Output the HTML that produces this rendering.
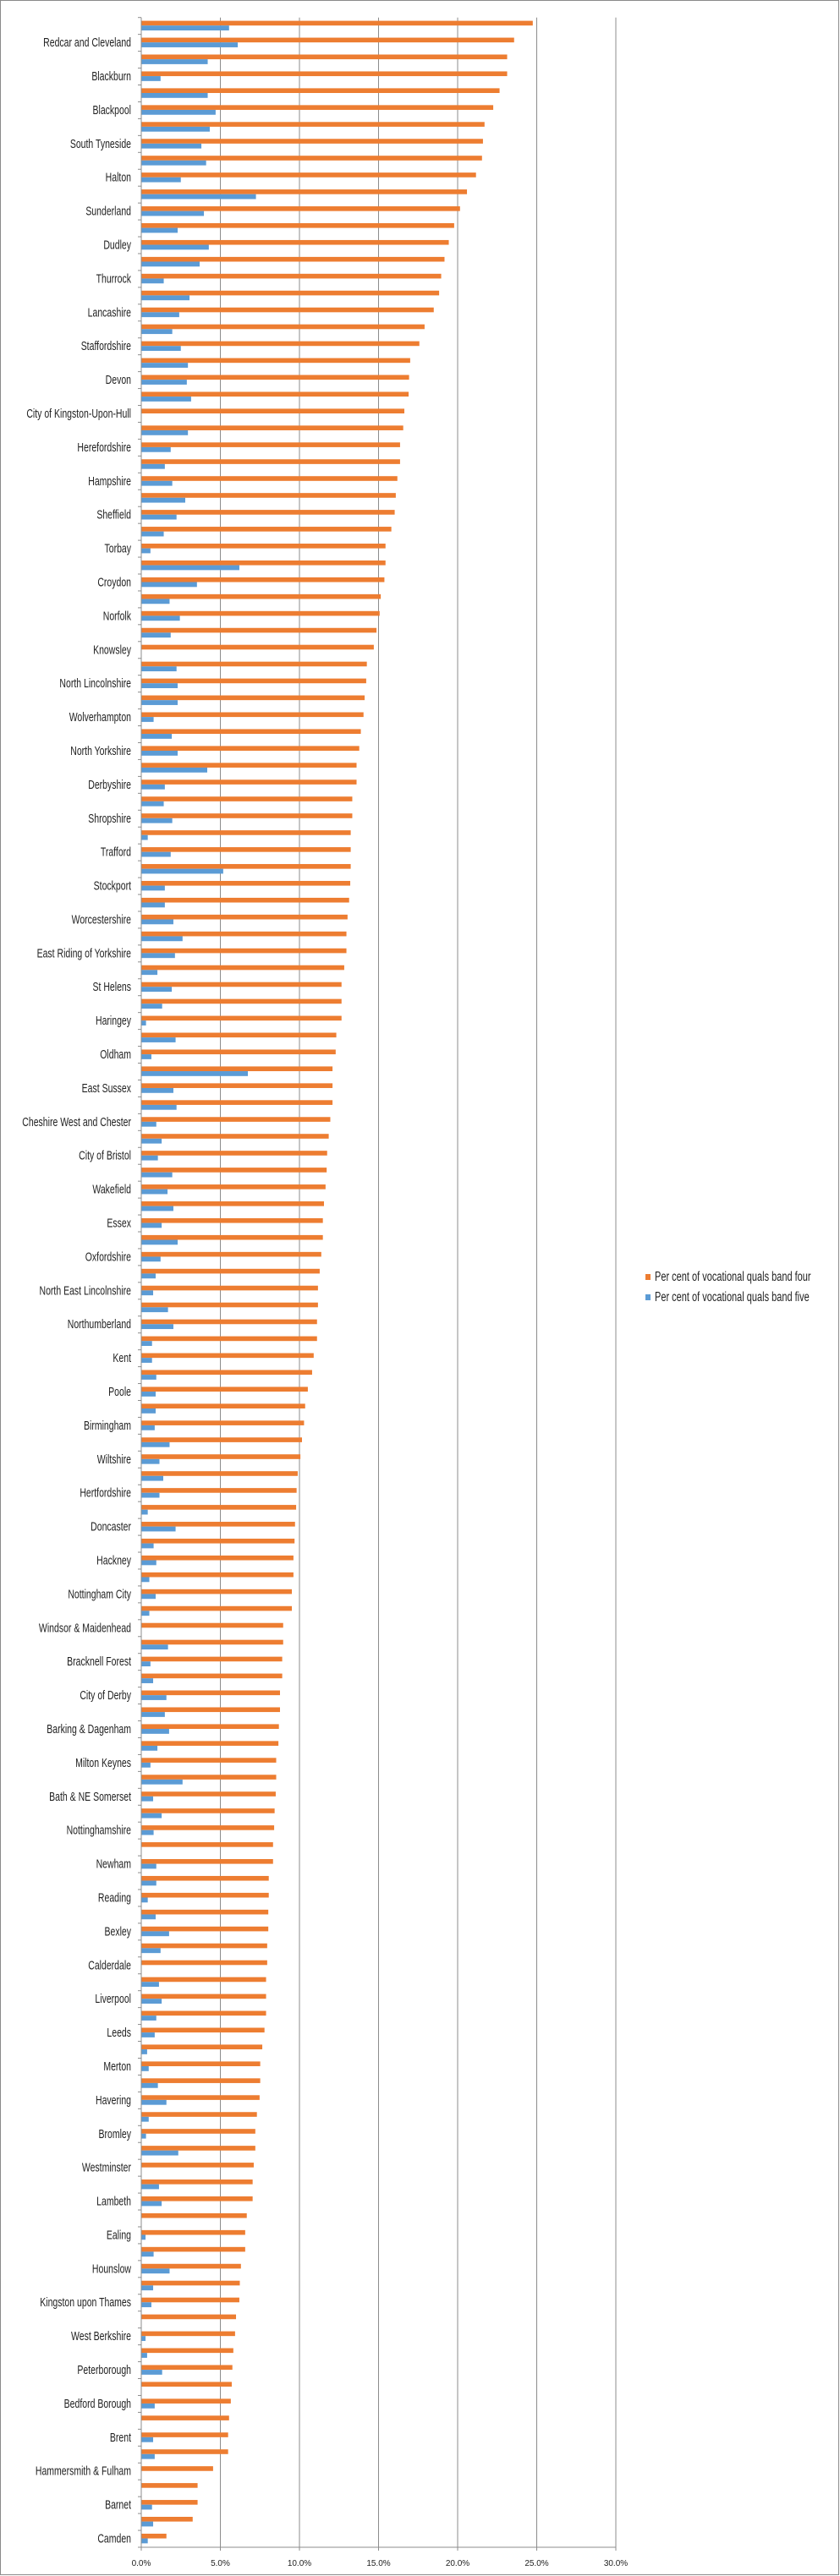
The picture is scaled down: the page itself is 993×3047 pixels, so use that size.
<!DOCTYPE html>
<html><head><meta charset="utf-8"><title>Vocational quals bands</title>
<style>
html,body{margin:0;padding:0;background:#fff;}
svg{display:block;}
text{font-family:"Liberation Sans",sans-serif;fill:#222;}
</style></head>
<body>
<svg id="chart" width="993" height="3047" viewBox="0 0 993 3047" xmlns="http://www.w3.org/2000/svg">
<rect x="0.5" y="0.5" width="991" height="3045" fill="#fff" stroke="#8a8a8a"/>
<g id="grid"></g>
<g id="bars"></g>
<g id="yaxis"></g>
<g id="xaxis"></g>
<g>
<rect x="763" y="1507" width="6" height="7" fill="#ed7d31"/>
<g transform="translate(774,1515) scale(1,1.4)"><text x="0" y="0" font-size="11">Per cent of vocational quals band four</text></g>
<rect x="763" y="1531" width="6" height="7" fill="#5b9bd5"/>
<g transform="translate(774,1539) scale(1,1.4)"><text x="0" y="0" font-size="11">Per cent of vocational quals band five</text></g>
</g>
</svg>
<script>
const labels = ["","Redcar and Cleveland","","Blackburn","","Blackpool","","South Tyneside","","Halton","","Sunderland","","Dudley","","Thurrock","","Lancashire","","Staffordshire","","Devon","","City of Kingston-Upon-Hull","","Herefordshire","","Hampshire","","Sheffield","","Torbay","","Croydon","","Norfolk","","Knowsley","","North Lincolnshire","","Wolverhampton","","North Yorkshire","","Derbyshire","","Shropshire","","Trafford","","Stockport","","Worcestershire","","East Riding of Yorkshire","","St Helens","","Haringey","","Oldham","","East Sussex","","Cheshire West and Chester","","City of Bristol","","Wakefield","","Essex","","Oxfordshire","","North East Lincolnshire","","Northumberland","","Kent","","Poole","","Birmingham","","Wiltshire","","Hertfordshire","","Doncaster","","Hackney","","Nottingham City","","Windsor & Maidenhead","","Bracknell Forest","","City of Derby","","Barking & Dagenham","","Milton Keynes","","Bath & NE Somerset","","Nottinghamshire","","Newham","","Reading","","Bexley","","Calderdale","","Liverpool","","Leeds","","Merton","","Havering","","Bromley","","Westminster","","Lambeth","","Ealing","","Hounslow","","Kingston upon Thames","","West Berkshire","","Peterborough","","Bedford Borough","","Brent","","Hammersmith & Fulham","","Barnet","","Camden"];
const bandFour = [24.75,23.57,23.13,23.13,22.65,22.25,21.7,21.6,21.54,21.16,20.59,20.15,19.78,19.44,19.17,18.96,18.83,18.49,17.91,17.58,17.0,16.93,16.9,16.63,16.56,16.36,16.36,16.19,16.09,16.02,15.81,15.44,15.44,15.37,15.14,15.07,14.87,14.7,14.26,14.22,14.12,14.05,13.88,13.78,13.61,13.61,13.34,13.34,13.24,13.24,13.24,13.21,13.14,13.04,12.97,12.97,12.83,12.66,12.66,12.66,12.33,12.29,12.09,12.09,12.09,11.95,11.85,11.75,11.72,11.65,11.55,11.48,11.48,11.38,11.28,11.17,11.17,11.11,11.11,10.9,10.8,10.53,10.36,10.29,10.16,10.06,9.89,9.82,9.79,9.72,9.69,9.62,9.62,9.52,9.52,8.97,8.97,8.91,8.91,8.77,8.77,8.7,8.67,8.53,8.53,8.5,8.43,8.4,8.33,8.33,8.06,8.06,8.03,8.03,7.96,7.96,7.89,7.89,7.89,7.79,7.65,7.52,7.52,7.48,7.31,7.21,7.21,7.11,7.04,7.04,6.67,6.57,6.57,6.3,6.23,6.2,5.99,5.93,5.82,5.76,5.72,5.66,5.55,5.49,5.49,4.54,3.56,3.56,3.25,1.59];
const bandFive = [5.55,6.1,4.2,1.22,4.2,4.7,4.33,3.8,4.1,2.5,7.25,3.96,2.3,4.27,3.69,1.42,3.05,2.4,1.96,2.5,2.95,2.88,3.15,0,2.95,1.86,1.49,1.96,2.78,2.23,1.42,0.58,6.2,3.52,1.79,2.44,1.86,0,2.23,2.3,2.3,0.78,1.93,2.3,4.17,1.49,1.42,1.96,0.41,1.86,5.18,1.49,1.49,2.03,2.61,2.13,1.02,1.93,1.32,0.3,2.17,0.64,6.74,2.03,2.23,0.95,1.29,1.05,1.96,1.66,2.03,1.29,2.3,1.22,0.91,0.75,1.69,2.03,0.68,0.68,0.95,0.91,0.91,0.85,1.79,1.15,1.39,1.15,0.41,2.17,0.78,0.95,0.51,0.91,0.51,0,1.69,0.58,0.75,1.59,1.49,1.76,1.02,0.58,2.61,0.75,1.29,0.78,0,0.95,0.95,0.41,0.91,1.76,1.22,0,1.12,1.29,0.95,0.85,0.37,0.47,1.05,1.59,0.47,0.3,2.34,0,1.12,1.29,0,0.27,0.78,1.79,0.75,0.64,0,0.27,0.37,1.32,0,0.85,0,0.75,0.85,0,0,0.68,0.75,0.41];
const xTicks = [0,5,10,15,20,25,30];
const xTickLabels = ["0.0%","5.0%","10.0%","15.0%","20.0%","25.0%","30.0%"];

const NS = "http://www.w3.org/2000/svg";
const X0 = 167, X1 = 728, XMAX = 30, TOP = 20.7, BOTTOM = 3013;
const band = (BOTTOM - TOP) / labels.length;
function xScale(v){ return X0 + (X1 - X0) * v / XMAX; }
function yScale(i){ return TOP + band * i; }
function mk(tag, attrs, parent){
  const e = document.createElementNS(NS, tag);
  for (const k in attrs) e.setAttribute(k, attrs[k]);
  parent.appendChild(e);
  return e;
}
const grid = document.getElementById('grid');
const bars = document.getElementById('bars');
const yaxis = document.getElementById('yaxis');
const xaxis = document.getElementById('xaxis');

xTicks.forEach((t, i) => {
  if (t > 0) {
    const l = mk('line', {x1: xScale(t), x2: xScale(t), y1: TOP, y2: BOTTOM, stroke: '#8c8c8c', 'stroke-width': 1}, grid);
    
    
  }
  const tx = mk('text', {x: xScale(t), y: BOTTOM + 22, 'text-anchor': 'middle', 'font-size': 10}, xaxis);
  tx.textContent = xTickLabels[i];
  
  
});

labels.forEach((lab, i) => {
  const y = yScale(i);
  const o = mk('rect', {x: xScale(0), y: y + 3.9, width: xScale(bandFour[i]) - xScale(0), height: 5.6, fill: '#ed7d31'}, bars);
  
  
  const b = mk('rect', {x: xScale(0), y: y + 9.5, width: xScale(bandFive[i]) - xScale(0), height: 5.8, fill: '#5b9bd5'}, bars);
  
  
  const tk = mk('line', {x1: X0 - 4, x2: X0, y1: y, y2: y, stroke: '#8c8c8c', 'stroke-width': 1}, yaxis);
  
  
  if (lab) {
    const g = mk('g', {transform: 'translate(155,' + (y + band / 2 + 4.5) + ') scale(1,1.4)'}, yaxis);
    const t = mk('text', {x: 0, y: 0, 'text-anchor': 'end', 'font-size': 10.5}, g);
    t.textContent = lab;
    
    
  }
});
const last = mk('line', {x1: X0 - 4, x2: X0, y1: BOTTOM, y2: BOTTOM, stroke: '#8c8c8c'}, yaxis);


const ax = mk('line', {x1: X0, x2: X0, y1: TOP, y2: BOTTOM, stroke: '#8c8c8c'}, yaxis);


const xl = mk('line', {x1: X0, x2: X1, y1: BOTTOM, y2: BOTTOM, stroke: '#8c8c8c'}, xaxis);


xTicks.forEach(t => {
  const k = mk('line', {x1: xScale(t), x2: xScale(t), y1: BOTTOM, y2: BOTTOM + 4, stroke: '#8c8c8c'}, xaxis);
  
  
});
</script>
</body></html>
